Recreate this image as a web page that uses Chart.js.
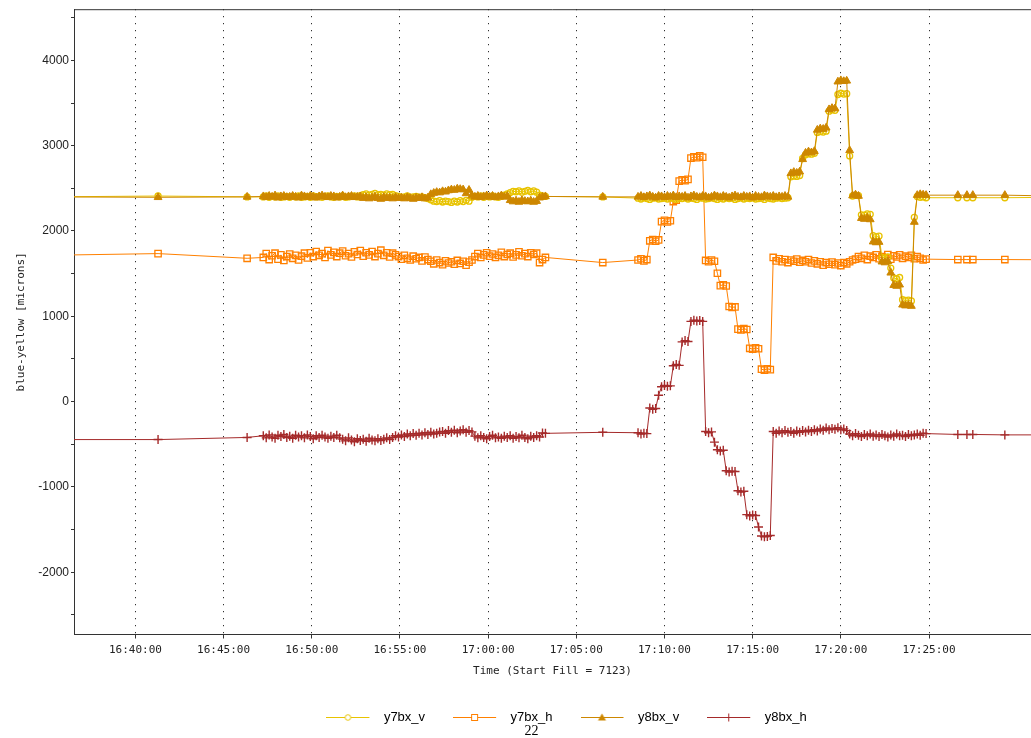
<!DOCTYPE html>
<html>
<head>
<meta charset="utf-8">
<script src="https://cdn.jsdelivr.net/npm/chart.js@4.4.0/dist/chart.umd.min.js"></script>
<style>
  html, body { margin: 0; padding: 0; background: #fff; }
  #wrap { position: relative; width: 1031px; height: 738px; }
</style>
</head>
<body>
<div id="wrap"><canvas id="grafica"></canvas></div>
<script type="text/javascript">

    // sample times: a few sparse points, two blocks sampled every 10 s, sparse again
    var preTimes = ['16:35:00', '16:41:17', '16:46:20'];
    var block1Start = '16:47:15';
    var block1Count = 97;
    var midTimes = ['17:06:30'];
    var block2Start = '17:08:30';
    var block2Count = 99;
    var postTimes = ['17:26:38', '17:27:09', '17:27:29', '17:29:18', '17:35:00'];
    var blockStep = 10;

    var xMin = '16:36:31';
    var xMax = '17:30:47';
    var xTickLabels = ['16:40:00', '16:45:00', '16:50:00', '16:55:00', '17:00:00',
                       '17:05:00', '17:10:00', '17:15:00', '17:20:00', '17:25:00'];
    var yTicks = [-2500, -2000, -1500, -1000, -500, 0, 500, 1000, 1500, 2000, 2500, 3000, 3500, 4000, 4500];

    // blue-yellow [microns], one value per sample time
    var y7bx_v = [
        2400, 2410, 2400,
        // block 1
        2400, 2410, 2395, 2405, 2400, 2410, 2395, 2400, 2405, 2395,
        2405, 2400, 2410, 2395, 2400, 2405, 2395, 2410, 2400, 2405,
        2395, 2405, 2410, 2400, 2395, 2405, 2400, 2410, 2395, 2400,
        2405, 2410, 2400, 2415,
        2425, 2435, 2420, 2430, 2440, 2425, 2430, 2420, 2435, 2425, 2430, 2415,
        2405, 2395, 2400, 2410, 2395, 2400, 2405, 2395, 2400, 2390, 2380,
        2365, 2350, 2345, 2355, 2340, 2350, 2345, 2335, 2350, 2340, 2355, 2345, 2360, 2350,
        2395, 2405, 2400, 2410, 2395, 2405, 2400, 2410, 2400, 2395, 2405, 2420, 2435,
        2450, 2465, 2460, 2470, 2455, 2465, 2475, 2460, 2470, 2455,
        2420, 2410, 2405,
        2400,
        // block 2
        2385, 2375, 2390, 2380, 2370, 2385, 2390, 2375, 2380, 2385,
        2375, 2390, 2380, 2370, 2385, 2380, 2390, 2375, 2385, 2380,
        2370, 2390, 2385, 2375, 2380, 2390, 2380, 2370, 2385, 2375,
        2390, 2380, 2385, 2370, 2380, 2390, 2375, 2385, 2380, 2390,
        2375, 2380, 2385, 2370, 2390, 2380, 2375, 2385, 2390, 2380,
        2385, 2390,
        2635, 2645, 2640, 2650, 2850, 2895, 2905, 2900, 2910,
        3155, 3165, 3160, 3170, 3405, 3420, 3415, 3600, 3615, 3605, 3610,
        2880, 2410, 2420, 2415, 2190, 2185, 2200, 2195, 1945, 1935, 1940,
        1690, 1680, 1695, 1565, 1450, 1440, 1455, 1195, 1185, 1190, 1180,
        2160, 2405, 2395, 2400, 2390,
        2390, 2390, 2390, 2390, 2400
    ];

    var y7bx_h = [
        1715, 1735, 1680,
        1690, 1735, 1665, 1710, 1740, 1670, 1720, 1655, 1700, 1730, 1680, 1715, 1660, 1705, 1740, 1685,
        1745, 1700, 1760, 1715, 1735, 1690, 1770, 1720, 1750, 1700,
        1740, 1765, 1710, 1735, 1695, 1755, 1725, 1770, 1705, 1745,
        1720, 1760, 1700, 1735, 1775, 1715, 1745, 1695, 1740, 1720,
        1700, 1670, 1715, 1680, 1660, 1705, 1675, 1690, 1650, 1695, 1665,
        1645, 1615, 1660, 1630, 1605, 1650, 1625, 1640, 1610, 1655, 1620, 1645, 1600, 1635, 1660,
        1700, 1735, 1690, 1720, 1745, 1705, 1730, 1690, 1715, 1750,
        1700, 1725, 1740, 1695, 1720, 1755, 1710, 1735, 1700, 1745, 1725, 1740,
        1630, 1665, 1690,
        1630,
        1660, 1675, 1650, 1665, 1885, 1900, 1880, 1895, 2110, 2125, 2105, 2120,
        2345, 2360, 2585, 2600, 2590, 2605, 2855, 2870, 2860, 2880, 2865,
        1655, 1640, 1660, 1645, 1505, 1360, 1370, 1355, 1115, 1105, 1110,
        850, 840, 855, 845, 625, 615, 630, 620, 380, 370, 385, 375,
        1690, 1650, 1675, 1640, 1665, 1630, 1660, 1645, 1670, 1635, 1655, 1640, 1665, 1625, 1650,
        1615, 1640, 1600, 1630, 1610, 1635, 1605, 1625, 1595, 1630, 1615,
        1640, 1660,
        1670, 1700, 1680, 1715, 1665, 1705, 1690, 1720, 1675, 1700,
        1685, 1725, 1670, 1710, 1695, 1720, 1680, 1705, 1690, 1715, 1675, 1700,
        1680, 1660, 1670,
        1665, 1665, 1665, 1665, 1660
    ];

    var y8bx_v = [
        2400, 2395, 2400,
        2405, 2395, 2410, 2400, 2415, 2390, 2405, 2410, 2395, 2400,
        2410, 2400, 2390, 2415, 2405, 2395, 2410, 2400, 2390, 2405,
        2415, 2400, 2395, 2410, 2405, 2390, 2400, 2415, 2395, 2405,
        2410, 2395, 2400, 2405,
        2385, 2395, 2380, 2390, 2400, 2385, 2375, 2395, 2385, 2390,
        2380, 2395, 2385, 2390, 2380, 2395, 2385, 2375, 2390, 2385, 2395, 2380, 2390,
        2430, 2445, 2455, 2450, 2465, 2460, 2475, 2485, 2480, 2495, 2490, 2485, 2440, 2480,
        2415, 2400, 2410, 2395, 2405, 2415, 2400, 2410, 2395, 2405, 2415, 2400, 2410,
        2360, 2345, 2355, 2340, 2360, 2350, 2345, 2355, 2340, 2350,
        2390, 2400, 2405,
        2400,
        2400, 2410, 2395, 2405, 2415, 2400, 2390, 2410, 2405, 2395,
        2410, 2400, 2415, 2395, 2405, 2400, 2410, 2390, 2405, 2415,
        2400, 2395, 2410, 2405, 2390, 2400, 2415, 2405, 2395, 2410,
        2400, 2390, 2405, 2415, 2400, 2395, 2410, 2400, 2405, 2390,
        2410, 2400, 2395, 2415, 2405, 2400, 2410, 2395, 2405, 2400,
        2410, 2400,
        2675, 2690, 2680, 2695, 2840, 2915, 2930, 2920, 2935,
        3185, 3200, 3195, 3210, 3425, 3440, 3435, 3750, 3765, 3755, 3760,
        2945, 2415, 2425, 2410, 2150, 2140, 2155, 2135, 1875, 1865, 1870,
        1640, 1630, 1645, 1510, 1365, 1355, 1370, 1135, 1125, 1130, 1120,
        2105, 2420, 2430, 2425, 2420,
        2420, 2420, 2420, 2420, 2400
    ];

    var y8bx_h = [
        -445, -445, -420,
        -400, -425, -390, -415, -430, -395, -410, -385, -420, -405,
        -430, -395, -415, -400, -425, -390, -410, -435, -400, -420,
        -395, -415, -430, -405, -420, -395, -425,
        -440, -460, -425, -450, -470, -435, -455, -440, -465, -430,
        -450, -460, -435, -455, -440, -425, -445,
        -420, -400, -415, -390, -410, -380, -400, -375, -395, -370,
        -390, -365, -385, -360, -380, -370, -355,
        -350, -370, -340, -360, -335, -365, -345, -330, -360, -340, -355,
        -405, -425, -400, -420, -435, -410, -395, -425, -415, -430,
        -405, -420, -400, -430, -410, -425, -395, -420, -435, -405,
        -420, -400, -415,
        -368, -372,
        -360,
        -365, -380, -370, -375, -75, -90, -80, 75, 175, 190, 180, 185,
        420, 435, 425, 700, 715, 705, 940, 955, 945, 950, 940,
        -350, -365, -355, -475, -565, -580, -570, -810, -825, -815, -820,
        -1045, -1060, -1050, -1325, -1340, -1330, -1335, -1470, -1575, -1585, -1580, -1570,
        -350, -370, -345, -365, -340, -360, -350, -370, -345, -360,
        -340, -355, -335, -350, -330, -345,
        -320, -335, -310, -330, -315, -325, -305, -330, -320, -340,
        -380, -400, -375, -395, -410, -385, -400, -380, -405, -390,
        -410, -385, -400, -415, -390, -405, -380, -400, -395, -410,
        -385, -400, -390, -380, -395,
        -370, -375,
        -385, -385, -385, -390, -390
    ];

    function secs(t) {
        var p = t.split(':');
        return (+p[0]) * 3600 + (+p[1]) * 60 + (+p[2]);
    }
    function hms(s) {
        s = Math.round(s);
        var h = Math.floor(s / 3600), m = Math.floor((s % 3600) / 60), x = s % 60;
        return h + ':' + (m < 10 ? '0' : '') + m + ':' + (x < 10 ? '0' : '') + x;
    }

    var times = preTimes.map(secs);
    for (var i = 0; i < block1Count; i++) times.push(secs(block1Start) + i * blockStep);
    times = times.concat(midTimes.map(secs));
    for (var j = 0; j < block2Count; j++) times.push(secs(block2Start) + j * blockStep);
    times = times.concat(postTimes.map(secs));

    var colores = {
        y7bx_v: '#e8c300',
        y7bx_h: '#ff8000',
        y8bx_v: '#cd8700',
        y8bx_h: '#a52a2a'
    };

    function serie(label, values, color, style, radius, fill, pw, order) {
        return {
            label: label,
            data: values.map(function (v, k) { return {x: times[k], y: v}; }),
            borderColor: color,
            borderWidth: 1,
            pointStyle: style,
            pointRadius: radius,
            pointHoverRadius: radius,
            pointBorderWidth: pw,
            pointBorderColor: color,
            pointBackgroundColor: fill,
            tension: 0,
            order: order
        };
    }

    // small line+marker picture for each legend entry
    function legendIcon(color, shape) {
        var c = document.createElement('canvas');
        c.width = 51; c.height = 11;
        var g = c.getContext('2d');
        g.strokeStyle = color; g.fillStyle = color; g.lineWidth = 1;
        g.beginPath(); g.moveTo(0, 5.5); g.lineTo(43, 5.5); g.stroke();
        var cx = 21.5, cy = 5.5;
        if (shape === 'circle') {
            g.fillStyle = '#fff';
            g.beginPath(); g.arc(cx, cy, 2.8, 0, Math.PI * 2); g.fill(); g.stroke();
        } else if (shape === 'rect') {
            g.fillStyle = '#fff';
            g.fillRect(cx - 3, cy - 3, 6, 6); g.strokeRect(cx - 3, cy - 3, 6, 6);
        } else if (shape === 'triangle') {
            g.beginPath(); g.moveTo(cx, cy - 4); g.lineTo(cx + 4, cy + 3); g.lineTo(cx - 4, cy + 3);
            g.closePath(); g.fill();
        } else {
            g.beginPath(); g.moveTo(cx, cy - 4); g.lineTo(cx, cy + 4); g.stroke();
        }
        return c;
    }

    var datos = {
        datasets: [
            serie('y7bx_v', y7bx_v, colores.y7bx_v, 'circle', 3, 'rgba(255,255,255,0)', 1.3, 1),
            serie('y7bx_h', y7bx_h, colores.y7bx_h, 'rect', 4.5, 'rgba(255,255,255,0)', 1.3, 2),
            serie('y8bx_v', y8bx_v, colores.y8bx_v, 'triangle', 4.5, colores.y8bx_v, 1, 0),
            serie('y8bx_h', y8bx_h, colores.y8bx_h, 'cross', 4.5, colores.y8bx_h, 1.4, 3)
        ]
    };
    var formas = ['circle', 'rect', 'triangle', 'cross'];

    var marco = {
        id: 'marco',
        afterLayout: function (chart) {
            // legend and page number sit a bit right of the canvas centre
            chart.legend.left += 51; chart.legend.right += 51;
            chart.titleBlock.left += 16; chart.titleBlock.right += 16;
        },
        afterDraw: function (chart) {
            var a = chart.chartArea, ctx = chart.ctx;
            ctx.save();
            ctx.strokeStyle = '#333'; ctx.lineWidth = 1;
            ctx.beginPath(); ctx.moveTo(a.left, a.top + 0.5); ctx.lineTo(a.right, a.top + 0.5); ctx.stroke();
            ctx.restore();
        }
    };

    var canvas = document.getElementById('grafica');
    var context = canvas.getContext('2d');

    window.grafica = new Chart(context, {
        type: 'line',
        data: datos,
        plugins: [marco],
        options: {
            responsive: true,
            maintainAspectRatio: false,
            animation: false,
            layout: { autoPadding: false, padding: { top: 9, left: 0, right: 0, bottom: 0 } },
            plugins: {
                tooltip: { enabled: false },
                legend: {
                    position: 'bottom',
                    maxHeight: 41,
                    labels: {
                        usePointStyle: true,
                        pointStyleWidth: 51,
                        padding: 28,
                        color: '#222',
                        font: { family: 'Liberation Sans', size: 13 },
                        generateLabels: function (chart) {
                            return chart.data.datasets.map(function (ds, k) {
                                return {
                                    text: ds.label,
                                    pointStyle: legendIcon(ds.borderColor, formas[k]),
                                    fillStyle: ds.borderColor,
                                    strokeStyle: ds.borderColor,
                                    lineWidth: 0,
                                    hidden: false,
                                    datasetIndex: k
                                };
                            });
                        }
                    }
                },
                title: {
                    display: true,
                    position: 'bottom',
                    text: '22',
                    color: '#000',
                    padding: 0,
                    font: { family: 'Liberation Serif', size: 14, weight: 'normal', lineHeight: 1 }
                }
            },
            scales: {
                x: {
                    type: 'linear',
                    min: secs(xMin),
                    max: secs(xMax),
                    afterBuildTicks: function (s) {
                        s.ticks = xTickLabels.map(function (t) { return {value: secs(t)}; });
                    },
                    afterFit: function (s) { s.height = 48.5; },
                    ticks: {
                        color: '#222',
                        padding: 5,
                        maxRotation: 0,
                        autoSkip: false,
                        font: { family: 'DejaVu Sans Mono', size: 11 },
                        callback: function (v) { return hms(v); }
                    },
                    grid: {
                        color: '#000',
                        lineWidth: 1,
                        drawTicks: true,
                        tickLength: 4,
                        tickColor: '#333',
                        tickBorderDash: []
                    },
                    border: { display: true, color: '#333', width: 1, dash: [1, 6] },
                    title: {
                        display: true,
                        text: 'Time (Start Fill = 7123)',
                        color: '#222',
                        padding: { top: 4, bottom: 5 },
                        font: { family: 'DejaVu Sans Mono', size: 11 }
                    }
                },
                y: {
                    min: -2730,
                    max: 4600,
                    afterBuildTicks: function (s) {
                        s.ticks = yTicks.map(function (v) { return {value: v}; });
                    },
                    afterFit: function (s) { s.width = 74; },
                    ticks: {
                        color: '#222',
                        padding: 2,
                        autoSkip: false,
                        font: { family: 'Liberation Sans', size: 12 },
                        callback: function (v) { return v % 1000 === 0 ? String(v) : ''; }
                    },
                    grid: {
                        drawOnChartArea: false,
                        drawTicks: true,
                        tickLength: 3,
                        tickColor: '#333'
                    },
                    border: { display: true, color: '#333', width: 1 },
                    title: {
                        display: true,
                        text: 'blue-yellow [microns]',
                        color: '#222',
                        padding: { top: 15, bottom: 0 },
                        font: { family: 'DejaVu Sans Mono', size: 11 }
                    }
                }
            }
        }
    });

</script>
</body>
</html>
